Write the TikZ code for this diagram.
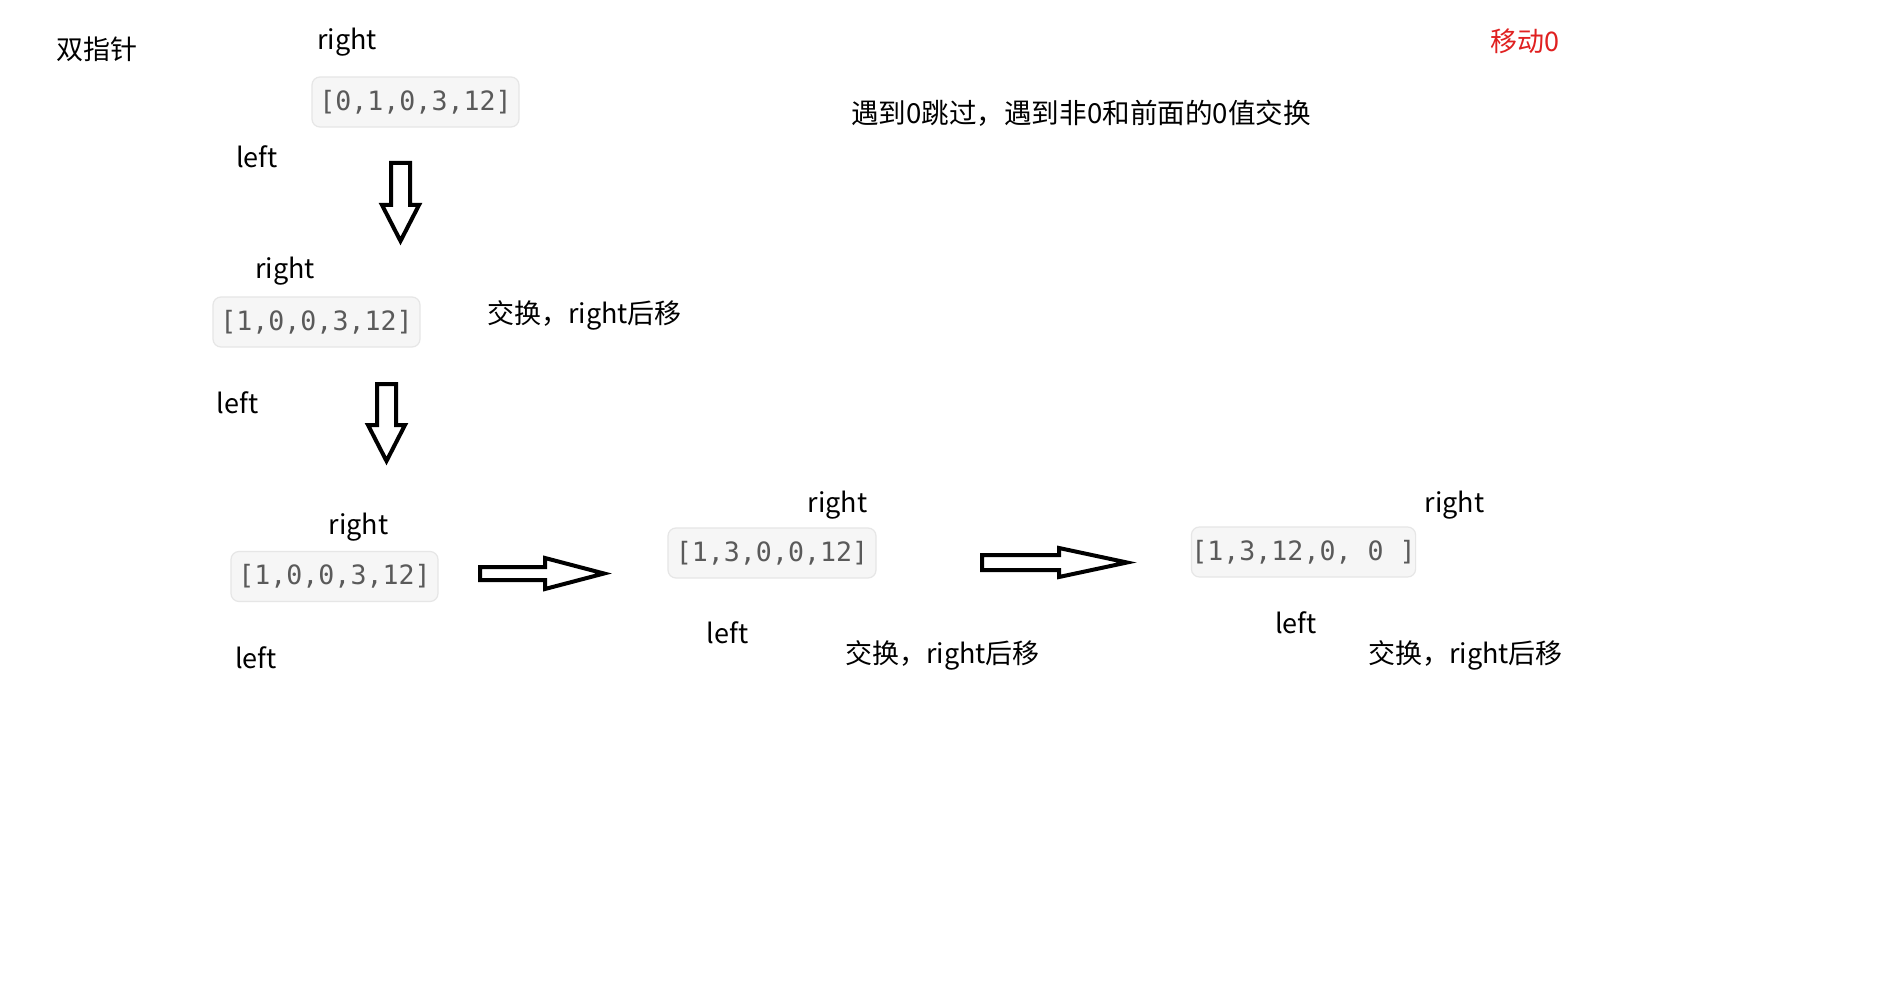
\documentclass[tikz,border=0pt]{standalone}
\usepackage{fontspec}
\setmainfont{Noto Sans CJK SC}
\newfontfamily\monofont{DejaVu Sans Mono}
\definecolor{boxfill}{HTML}{F6F6F6}
\definecolor{boxline}{HTML}{E6E6E6}
\definecolor{codegray}{HTML}{5A5A5A}
\definecolor{redtxt}{HTML}{E02020}
\begin{document}
\begin{tikzpicture}[x=0.5pt,y=-0.5pt,
  lbl/.style={inner sep=0pt,font=\fontsize{13.5pt}{16pt}\selectfont},
  arrbox/.style={draw=boxline,fill=boxfill,rounded corners=4pt,line width=0.6pt,
    minimum height=25pt,inner sep=0pt,text=codegray,font=\monofont\fontsize{13.3pt}{15pt}\selectfont},
  blockarrow/.style={draw=black,line width=2pt,miter limit=10}]
\useasboundingbox (0,0) rectangle (1900,1000);
\fill[white] (0,0) rectangle (1900,1000);
% top texts
\node[lbl] (title) at (97,49) {双指针};
\node[lbl,text=redtxt] (move) at (1525,41) {移动0};
\node[lbl,font=\fontsize{13.8pt}{16pt}\selectfont] (desc) at (1081,113) {遇到0跳过，遇到非0和前面的0值交换};
% step 1
\node[lbl] (r1) at (347,42) {right};
\node[arrbox,minimum width=103.5pt] (b1) at (415.5,102) {[0,1,0,3,12]};
\node[lbl] (l1) at (257,157) {left};
\draw[blockarrow] (391,163) -- (410,163) -- (410,205) -- (419,205) -- (400.5,241) -- (382,205) -- (391,205) -- cycle;
% step 2
\node[lbl] (r2) at (285,271) {right};
\node[arrbox,minimum width=103.5pt] (b2) at (316.5,322) {[1,0,0,3,12]};
\node[lbl] (s1) at (584.5,315) {交换，right后移};
\node[lbl] (l2) at (237.5,403) {left};
\draw[blockarrow] (377,384) -- (396,384) -- (396,425) -- (405,425) -- (386.5,461) -- (368,425) -- (377,425) -- cycle;
% step 3
\node[lbl] (r3) at (358.5,527) {right};
\node[arrbox,minimum width=103.5pt] (b3) at (334.5,576.5) {[1,0,0,3,12]};
\node[lbl] (l3) at (256,658) {left};
\draw[blockarrow] (480,567) -- (545,567) -- (545,558) -- (604,573.5) -- (545,589) -- (545,580) -- (480,580) -- cycle;
% step 4
\node[lbl] (r4) at (837.5,505) {right};
\node[arrbox,minimum width=104pt] (b4) at (772,553) {[1,3,0,0,12]};
\node[lbl] (l4) at (727.5,633) {left};
\node[lbl] (s2) at (942.5,655) {交换，right后移};
\draw[blockarrow] (982,555) -- (1059,555) -- (1059,548) -- (1127,562.5) -- (1059,577) -- (1059,570) -- (982,570) -- cycle;
% step 5
\node[lbl] (r5) at (1454.5,505) {right};
\node[arrbox,minimum width=111.5pt] (b5) at (1303.5,552) {[1,3,12,0,\ 0\ ]};
\node[lbl] (l5) at (1296,623) {left};
\node[lbl] (s3) at (1465.5,655) {交换，right后移};
\end{tikzpicture}
\end{document}
